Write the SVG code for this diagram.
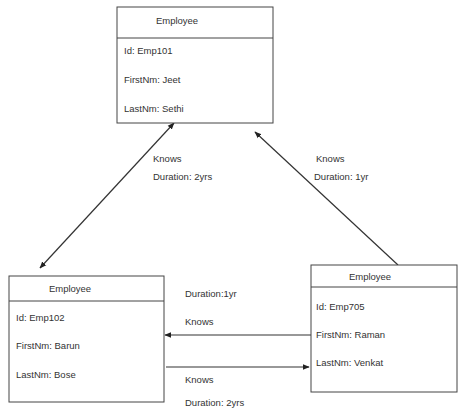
<svg xmlns="http://www.w3.org/2000/svg" width="459" height="409" viewBox="0 0 459 409">
<defs>
<marker id="ah" viewBox="0 0 10 10" refX="9" refY="5" markerWidth="7" markerHeight="7" orient="auto-start-reverse" markerUnits="userSpaceOnUse">
<path d="M0,1 L10,5 L0,9 Z" fill="#222"/>
</marker>
<style>
.box{fill:#fff;stroke:#444;stroke-width:1}
.t{font-family:"Liberation Sans",Arial,sans-serif;font-size:9.5px;fill:#333}
.c{stroke:#333;stroke-width:1.2;fill:none}
</style>
</defs>
<rect width="459" height="409" fill="#fff"/>
<g id="connectors">
<line class="c" x1="40" y1="268" x2="174" y2="123" marker-start="url(#ah)" marker-end="url(#ah)"/>
<line class="c" x1="398" y1="265" x2="255" y2="132" marker-end="url(#ah)"/>
<line class="c" x1="311" y1="335" x2="165" y2="335" marker-end="url(#ah)"/>
<line class="c" x1="166" y1="367" x2="309" y2="367" marker-end="url(#ah)"/>
<text class="t" x="153" y="162">Knows</text>
<text class="t" x="153" y="180">Duration: 2yrs</text>
<text class="t" x="316" y="162">Knows</text>
<text class="t" x="314" y="180">Duration: 1yr</text>
<text class="t" x="185" y="297">Duration:1yr</text>
<text class="t" x="185" y="325">Knows</text>
<text class="t" x="185" y="383">Knows</text>
<text class="t" x="185" y="406">Duration: 2yrs</text>
</g>
<g id="emp101">
<rect class="box" x="117" y="7" width="156" height="116"/>
<line class="box" x1="117" y1="38" x2="273" y2="38"/>
<text class="t" x="177" y="24" text-anchor="middle">Employee</text>
<text class="t" x="124" y="54">Id: Emp101</text>
<text class="t" x="124" y="83">FirstNm: Jeet</text>
<text class="t" x="124" y="112">LastNm: Sethi</text>
</g>
<g id="emp102">
<rect class="box" x="9" y="276" width="155" height="126"/>
<line class="box" x1="9" y1="301" x2="164" y2="301"/>
<text class="t" x="70" y="292" text-anchor="middle">Employee</text>
<text class="t" x="16" y="321">Id: Emp102</text>
<text class="t" x="16" y="349">FirstNm: Barun</text>
<text class="t" x="16" y="378">LastNm: Bose</text>
</g>
<g id="emp705">
<rect class="box" x="311" y="265" width="146" height="127"/>
<line class="box" x1="311" y1="287" x2="457" y2="287"/>
<text class="t" x="370" y="280" text-anchor="middle">Employee</text>
<text class="t" x="316" y="310">Id: Emp705</text>
<text class="t" x="316" y="338">FirstNm: Raman</text>
<text class="t" x="316" y="366">LastNm: Venkat</text>
</g>
</svg>
